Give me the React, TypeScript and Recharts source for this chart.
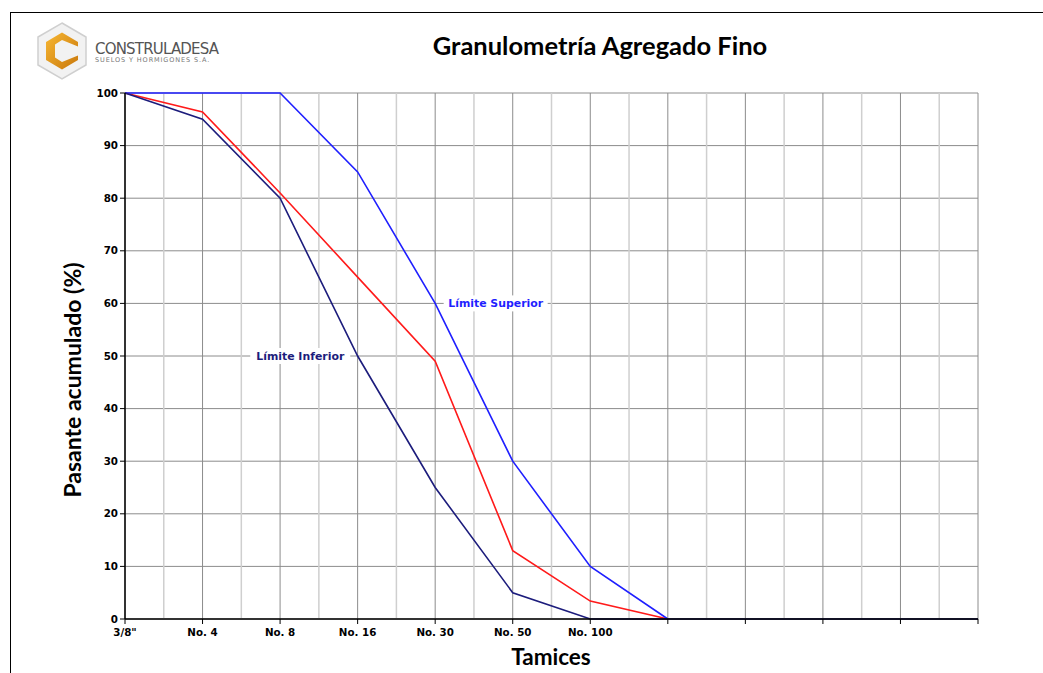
import React from 'react';
import { LineChart, Line, XAxis, YAxis, CartesianGrid, ReferenceLine, ReferenceDot } from 'recharts';

const categories = ['3/8"', 'No. 4', 'No. 8', 'No. 16', 'No. 30', 'No. 50', 'No. 100', '', '', '', '', ''];
const limiteSuperior = [100, 100, 100, 85, 60, 30, 10, 0, null, null, null, null];
const muestra = [100, 96.4, 81, 65, 49, 13, 3.4, 0, null, null, null, null];
const limiteInferior = [100, 95, 80, 50, 25, 5, 0, 0, 0, 0, 0, 0];
const yTicks = [0, 10, 20, 30, 40, 50, 60, 70, 80, 90, 100];

const data = categories.map((name, i) => ({
  x: i,
  name,
  sup: limiteSuperior[i],
  mue: muestra[i],
  inf: limiteInferior[i],
}));

const xTicks = categories.map((_, i) => i);
const halfTicks = categories.slice(1).map((_, i) => i + 0.5);

const tickFont = { fontFamily: 'DejaVu Sans', fontWeight: 700, fontSize: 10.3, fill: '#000' };

const curveLabel = (text: string, color: string, w: number) => (props: any) => {
  const { x, y } = props.viewBox;
  return (
    <g>
      <rect x={x - w / 2} y={y - 8} width={w} height={16} fill="#fff" />
      <text x={x} y={y} textAnchor="middle" dominantBaseline="central"
        fontFamily="DejaVu Sans" fontWeight={700} fontSize={10.9} fill={color}>
        {text}
      </text>
    </g>
  );
};

const Logo = () => (
  <svg width={60} height={62} viewBox="32 20 60 62" style={{ position: 'absolute', left: 32, top: 20 }}>
    <defs>
      <linearGradient id="og" x1="0" y1="0" x2="1" y2="1">
        <stop offset="0" stopColor="#f7b733" />
        <stop offset="1" stopColor="#c9780c" />
      </linearGradient>
    </defs>
    <polygon points="62,23 86,37 86,65 62,79 38,65 38,37" fill="#f2f2f2" stroke="#cfcfcf" strokeWidth={1.5} />
    <path d="M 78 42 L 62 32.5 L 46 42 L 46 60 L 62 69.5 L 78 60 L 78 55.5 L 62 62 L 55 57.5 L 55 44.5 L 62 40 L 78 46.5 Z" fill="url(#og)" />
  </svg>
);

export default function App() {
  return (
    <div style={{ position: 'fixed', left: 0, top: 0, width: 1043, height: 673, background: '#fff', overflow: 'hidden' }}>
      <div style={{ position: 'absolute', left: 10, top: 12, width: 1040, height: 670, borderTop: '1.5px solid #000', borderLeft: '1.5px solid #000' }} />
      <Logo />
      <div style={{ position: 'absolute', left: 95, top: 40, fontFamily: 'DejaVu Sans', fontSize: 15, color: '#555', letterSpacing: -0.8 }}>
        CONSTRULADESA
      </div>
      <div style={{ position: 'absolute', left: 95, top: 56, fontFamily: 'DejaVu Sans', fontSize: 6.5, color: '#777', letterSpacing: 0.9 }}>
        SUELOS Y HORMIGONES S.A.
      </div>
      <div style={{ position: 'absolute', left: 400, width: 400, top: 30, textAlign: 'center', fontFamily: 'Lato', fontWeight: 700, fontSize: 25.5, color: '#000' }}>
        Granulometría Agregado Fino
      </div>
      <div style={{ position: 'absolute', left: 72, top: 380, transform: 'translate(-50%, -50%) rotate(-90deg)', whiteSpace: 'nowrap', fontFamily: 'Lato', fontWeight: 700, fontSize: 23, color: '#000' }}>
        Pasante acumulado (%)
      </div>
      <div style={{ position: 'absolute', left: 351, width: 400, top: 643, textAlign: 'center', fontFamily: 'Lato', fontWeight: 700, fontSize: 22.5, color: '#000' }}>
        Tamices
      </div>
      <div style={{ position: 'absolute', left: 0, top: 0 }}>
        <LineChart width={1043} height={673} data={data} margin={{ top: 93, right: 65, bottom: 24, left: 65 }}>
          <CartesianGrid stroke="#8c8c8c" strokeWidth={1} />
          {halfTicks.map((v) => (
            <ReferenceLine key={v} x={v} stroke="#cfcfcf" strokeWidth={1.5} />
          ))}
          <XAxis type="number" dataKey="x" domain={[0, 11]} ticks={xTicks} interval={0}
            tickFormatter={(v: number) => categories[v]} tick={tickFont} tickSize={5} tickMargin={5}
            axisLine={{ stroke: '#000', strokeWidth: 1.5 }} tickLine={{ stroke: '#000' }} height={30} />
          <YAxis type="number" domain={[0, 100]} ticks={yTicks} interval={0} tick={tickFont} tickSize={5}
            axisLine={{ stroke: '#000', strokeWidth: 1.5 }} tickLine={{ stroke: '#000' }} width={60} />
          <Line type="linear" dataKey="mue" stroke="#ff1a1a" strokeWidth={1.6} dot={false} isAnimationActive={false} />
          <Line type="linear" dataKey="sup" stroke="#1f1fff" strokeWidth={1.6} dot={false} isAnimationActive={false} />
          <Line type="linear" dataKey="inf" stroke="#1c1c7c" strokeWidth={1.6} dot={false} isAnimationActive={false} />
          <ReferenceDot x={4.78} y={60} r={0} fill="none" stroke="none"
            label={{ content: curveLabel('Límite Superior', '#1f1fff', 104) } as any} />
          <ReferenceDot x={2.26} y={50} r={0} fill="none" stroke="none"
            label={{ content: curveLabel('Límite Inferior', '#1c1c7c', 100) } as any} />
        </LineChart>
      </div>
    </div>
  );
}
